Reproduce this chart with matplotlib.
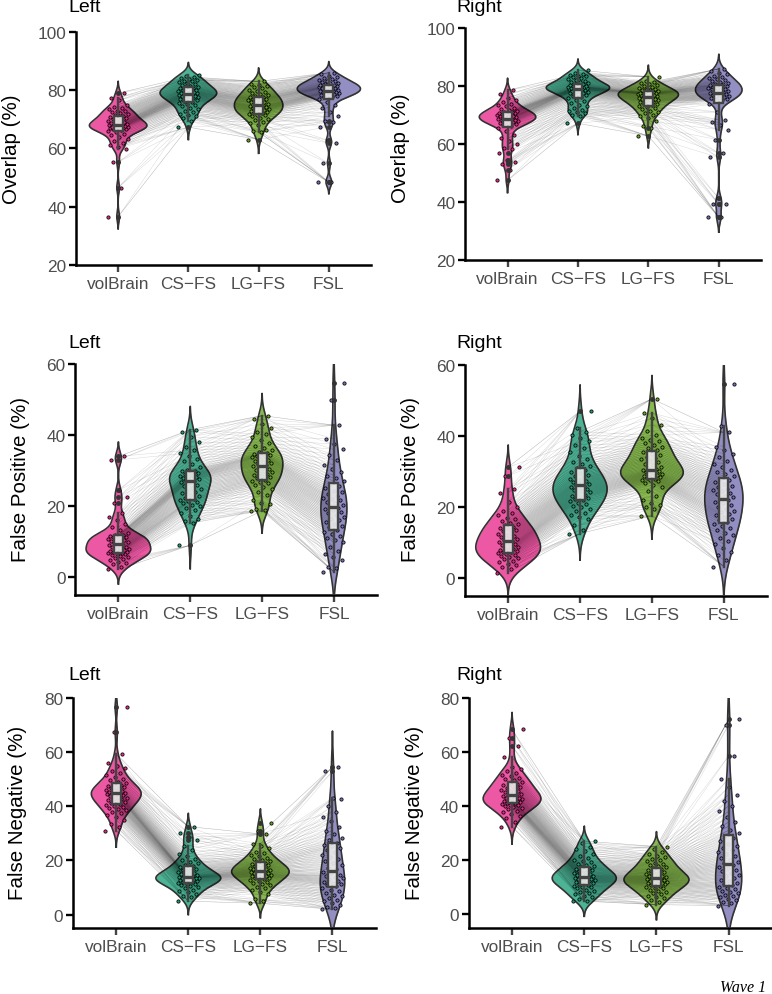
import numpy as np
import matplotlib
matplotlib.use('Agg')
import matplotlib.pyplot as plt

plt.rcParams['font.family'] = ['Liberation Sans', 'DejaVu Sans']

groups = ['volBrain', 'CS\u2212FS', 'LG\u2212FS', 'FSL']
colors = ['#E7298A', '#1B9E77', '#66A61E', '#7570B3']

# values, low to high
ov_l_vb = [36.5,46.5,55.3,59.8,60.3,61,61.8,62.5,63.2,63.9,64.5,65,65.5,66,66.3,66.5,66.6,66.8,66.9,67,67.1,67.3,67.4,67.5,67.7,67.8,67.9,68.1,68.3,68.5,68.6,68.8,69,69.3,69.5,69.8,70,70.3,70.6,70.9,71.2,71.5,71.8,72.1,72.4,72.7,73,73.4,73.8,74.2,75,76.5,77.4,79]
ov_l_cs = [67.3,69.5,70.5,71,71.4,71.8,72.5,73,73.5,74,74.4,74.8,75.2,75.6,75.9,76.2,76.5,76.8,77,77.2,77.4,77.6,77.8,78,78.1,78.3,78.5,78.6,78.8,78.9,79.1,79.2,79.4,79.5,79.7,79.8,80,80.2,80.4,80.6,80.8,81,81.2,81.5,81.8,82.1,82.4,82.7,83,83.3,83.6,84,84.3,84.6,85,85.3]
ov_l_lg = [63,65.6,65.8,66.4,68,68.6,69.2,69.8,70.2,70.6,71,71.3,71.6,71.9,72.2,72.4,72.6,72.8,73,73.2,73.4,73.6,73.8,74,74.2,74.4,74.6,74.9,75.2,75.4,75.6,75.9,76.1,76.3,76.5,76.7,76.9,77.1,77.3,77.6,77.8,78.1,78.4,78.7,79,79.4,79.8,80.2,80.6,81,81.4,81.8,82.2,83]
ov_l_fsl = [48.3,48.5,54.8,61.8,62.7,67.5,69,69.5,71,72.5,74,75,76,77,77.5,77.8,78,78.2,78.4,78.6,78.8,79,79.2,79.3,79.4,79.5,79.7,79.8,80,80.2,80.4,80.6,80.8,81,81.1,81.2,81.3,81.4,81.6,81.7,81.9,82.1,82.3,82.5,82.7,83,83.3,83.6,84,84.3,84.6,85,85.5,86]

ov_r_vb = [47.5,51.1,53,53.8,54.4,57,58.3,58.8,60,61,62,63.2,64.5,65.6,66.4,66.7,67,67.2,67.4,67.6,67.8,68,68.2,68.4,68.5,68.6,68.8,68.9,69.1,69.3,69.5,69.6,69.8,70,70.1,70.3,70.4,70.6,70.7,70.9,71,71.2,71.5,71.8,72.2,72.6,73,73.5,74,74.6,75.2,76,77.2,78.6]
ov_r_cs = [67.2,69.6,70.2,70.6,71,71.4,71.8,72.4,73,73.6,74.2,74.8,75.3,75.8,76.2,76.6,76.9,77.2,77.5,77.7,77.9,78.1,78.3,78.5,78.7,78.9,79,79.1,79.2,79.3,79.4,79.5,79.6,79.7,79.8,79.9,80,80.1,80.2,80.4,80.6,80.8,81,81.3,81.6,81.9,82.2,82.5,82.8,83.1,83.4,83.7,84,84.3,84.7,85.6]
ov_r_lg = [62.8,65.6,66.2,68,69,69.6,70.2,70.7,71.2,71.6,72,72.4,72.8,73.1,73.4,73.7,74,74.3,74.5,74.7,74.9,75.1,75.3,75.5,75.7,75.9,76.1,76.3,76.5,76.7,76.9,77,77.1,77.2,77.3,77.4,77.5,77.6,77.7,77.8,78,78.2,78.4,78.6,78.8,79,79.2,79.5,79.8,80.1,80.4,80.7,81,81.3,81.7,83.3]
ov_r_fsl = [34.7,34.8,39.2,39.4,41.3,55.4,56.9,61.5,65,66.7,67.5,68.4,71,74,75.2,75.5,75.7,75.9,76.1,76.3,76.5,76.7,76.9,77.1,77.3,77.5,77.7,77.9,78.2,78.5,78.7,78.9,79.1,79.3,79.5,79.7,79.9,80.1,80.3,80.5,80.6,80.8,81.1,81.4,81.7,82,82.4,82.8,83.2,83.6,84.1,84.6,85.2,86]

fp_l_vb = [2.2,3,3.6,4,4.4,4.8,5.1,5.4,5.7,6,6.2,6.4,6.6,6.7,6.8,7,7.1,7.3,7.5,7.6,7.8,8,8.2,8.4,8.6,8.9,9.1,9.4,9.6,9.8,10,10.2,10.4,10.6,10.8,11,11.2,11.4,11.5,11.6,11.8,11.9,12.5,13.2,14,15,16,17,18,21,22.5,24.5,33,34]
fp_l_cs = [9,15.2,15.7,16.4,17.2,18,18.8,19.4,20,20.4,20.8,21.2,21.5,21.8,22,22.4,22.8,23.2,23.6,24,24.4,24.8,25.2,25.6,26,26.4,26.8,27.2,27.4,27.6,27.8,28,28.2,28.4,28.6,28.8,29,29.2,29.5,29.8,30,30.3,31,31.8,32.6,33.4,34.2,35,35.8,36.6,38,39.5,41,41.5]
fp_l_lg = [18.7,19,19.3,20.5,21,21.6,23,24,24.8,25.4,26,26.4,26.8,27.2,27.5,27.8,28.1,28.4,28.7,29,29.3,29.6,29.9,30.2,30.5,30.8,31.2,31.6,31.9,32.2,32.5,32.8,33.1,33.4,33.7,34,34.2,34.4,34.6,34.8,35,35.3,35.8,36.4,37,37.8,38.6,39.4,40.2,41,42,43.2,44.5,45.5]
fp_l_fsl = [1.5,2.7,3,4.8,5.6,6.5,7.5,8.5,9.8,10.4,11,11.6,12.2,12.8,13.4,14,14.5,15,15.5,16,16.5,17,17.5,18,18.4,18.8,19.2,19.6,20,20.4,20.8,21.2,21.6,22,22.4,22.9,23.4,23.9,24.4,25,25.6,26.2,27,27.8,28.6,29.5,30.5,31.5,33,34.5,36,37.5,39,42.8,50,54.7]

fp_r_vb = [1.5,2.5,3,3.6,4,4.4,4.8,5.2,5.5,5.8,6.1,6.4,6.7,7,7.2,7.4,7.6,7.8,8,8.2,8.4,8.6,8.9,9.2,9.5,9.8,10.1,10.4,10.7,11,11.3,11.6,11.9,12.2,12.5,12.8,13.1,13.4,13.7,14,14.4,14.8,15.2,15.6,16,16.5,17,17.6,18.3,19,20,21.5,24,25,28.7,31.2]
fp_r_cs = [12.5,13.5,15,16.5,17.2,17.8,18.4,19,19.5,20,20.4,20.8,21.2,21.6,22,22.3,22.6,22.9,23.2,23.5,23.8,24.1,24.4,24.7,25,25.3,25.6,25.9,26.2,26.5,26.8,27.1,27.4,27.7,28,28.3,28.7,29.1,29.5,29.9,30.4,30.9,31.5,32.1,32.8,33.6,34.5,35.5,36.5,37.5,38.5,39.3,40.3,41.2,42.2,47]
fp_r_lg = [17.5,19.5,20,20.6,21,22,23,24.5,25.5,26.2,26.8,27.2,27.5,27.7,28,28.2,28.4,28.6,28.8,29,29.2,29.4,29.6,29.8,30,30.2,30.4,30.7,31,31.4,31.8,32.2,32.6,33,33.4,33.8,34.2,34.6,35,35.5,36,36.5,37,37.5,38,38.5,39,39.5,40.2,41.5,43.2,45,46.5,50.5]
fp_r_fsl = [3.2,5,6.5,7.4,8.3,9.5,10.5,11.3,12,12.7,13.4,14,14.6,15.2,15.7,16.2,16.7,17.2,17.6,18,18.5,19,19.5,20,20.5,21,21.5,22,22.4,22.8,23.2,23.6,24,24.4,24.8,25.2,25.6,26,26.5,27,27.5,28,28.6,29.2,29.8,30.5,31.2,32,33,34,35,36,37,41,42.8,54.6]

fn_l_vb = [31,32.5,33.5,35,36,36.8,37.4,38,38.5,39,39.4,39.8,40.2,40.6,41,41.3,41.6,41.9,42.2,42.5,42.8,43.1,43.4,43.7,44,44.2,44.4,44.6,44.8,45,45.2,45.4,45.6,45.8,46,46.3,46.6,46.9,47.2,47.5,47.9,48.3,48.7,49.1,49.6,50.1,50.7,51.4,52.2,53,54,55,56,59.3,67.2,76.5]
fn_l_cs = [5,6.5,7,7.6,8.2,8.8,9.3,9.8,10.2,10.6,10.9,11.2,11.5,11.8,12,12.2,12.4,12.6,12.8,13,13.2,13.4,13.5,13.6,13.7,13.8,14,14.1,14.3,14.5,14.7,15,15.3,15.6,15.9,16.2,16.5,16.8,17.2,17.6,18,18.4,18.9,19.4,20,20.6,21.5,22.5,24,25.5,27.5,28.5,30,32.5]
fn_l_lg = [4.2,5,5.7,7.5,8.5,9.2,9.8,10.3,10.8,11.2,11.6,12,12.4,12.8,13.1,13.4,13.7,14,14.2,14.4,14.6,14.8,15,15.2,15.4,15.6,15.8,16,16.2,16.4,16.6,16.8,17,17.2,17.4,17.6,17.9,18.2,18.5,18.8,19.1,19.4,19.8,20.2,20.6,21,21.5,22,22.6,23.3,24.5,25.5,26.2,29.8,31,33.8]
fn_l_fsl = [2,2.5,3,3.7,4.3,5,5.6,6.2,6.8,7.4,8,8.6,9.2,9.9,10.6,11,11.4,11.8,12.2,12.6,13,13.4,13.8,14.2,14.6,15.2,15.9,16.7,17.4,18.2,19,19.8,20.6,21.4,22.2,23,23.8,24.6,25.2,25.8,26.6,27.4,28.4,29.8,31,32.5,34.5,36,38,40,42.5,43,52.8,54.5]

fn_r_vb = [32.3,34.2,35.5,36.3,37,37.6,38.2,38.7,39.1,39.5,39.9,40.2,40.5,40.8,41,41.2,41.4,41.6,41.8,42,42.2,42.4,42.6,42.8,43,43.3,43.6,43.9,44.2,44.5,44.8,45.1,45.4,45.7,46,46.3,46.6,47,47.4,47.8,48.2,48.6,49,49.5,50,50.5,51,51.6,52.2,52.8,53.5,54.5,58,62.2,65,68.3]
fn_r_cs = [4.8,5,5.6,6.2,6.8,7.3,7.8,8.3,8.7,9.1,9.5,9.9,10.2,10.5,10.8,11.1,11.4,11.7,11.9,12.1,12.3,12.5,12.7,12.9,13.1,13.3,13.5,13.7,13.9,14.1,14.3,14.5,14.7,15,15.3,15.6,15.9,16.2,16.5,16.8,17.1,17.5,17.9,18.3,18.7,19.2,19.7,20.2,20.8,21.5,22.3,23.2,24,25,26.3,27]
fn_r_lg = [3.5,4.5,5.2,5.9,6.4,6.9,7.4,7.9,8.3,8.7,9.1,9.5,9.8,10.1,10.4,10.7,11,11.2,11.4,11.6,11.8,12,12.2,12.4,12.6,12.8,13,13.2,13.4,13.6,13.8,14,14.2,14.5,14.8,15.1,15.4,15.7,16,16.3,16.6,17,17.4,17.8,18.2,18.6,19,19.5,20,20.5,21,21.6,22.2,23,24,25]
fn_r_fsl = [3.2,4,4.6,5.2,5.7,6.2,6.7,7.2,7.7,8.2,8.7,9.2,9.7,10.2,10.7,11.2,11.7,12.2,12.8,13.4,14,14.6,15.2,15.8,16.4,17,17.6,18.2,18.8,19.4,20,20.7,21.4,22.1,22.8,23.6,24.4,25.2,26,27,28,29,30,31,32.5,34,36,38,40,42,44.2,47,50,58.5,70,72]

W, H = 772, 995
fig = plt.figure(figsize=(W / 100, H / 100), dpi=100)

# data, title, ylabel, ylim, yticks, pixel box (left, right, top, bottom), title xy, ylabel xy
panels = [
    ([ov_l_vb, ov_l_cs, ov_l_lg, ov_l_fsl], 'Left', 'Overlap (%)', (20, 100), [20, 40, 60, 80, 100], (76, 371, 33, 265.7), (68, 8), (12, 149)),
    ([ov_r_vb, ov_r_cs, ov_r_lg, ov_r_fsl], 'Right', 'Overlap (%)', (20, 100), [20, 40, 60, 80, 100], (465.3, 761, 29.3, 261), (456, 8), (401, 148)),
    ([fp_l_vb, fp_l_cs, fp_l_lg, fp_l_fsl], 'Left', 'False Positive (%)', (-5, 60), [0, 20, 40, 60], (75.3, 377, 365, 596), (68, 344), (21, 480)),
    ([fp_r_vb, fp_r_cs, fp_r_lg, fp_r_fsl], 'Right', 'False Positive (%)', (-5, 60), [0, 20, 40, 60], (465, 767, 366, 596.7), (456, 344), (411, 480)),
    ([fn_l_vb, fn_l_cs, fn_l_lg, fn_l_fsl], 'Left', 'False Negative (%)', (-5, 80), [0, 20, 40, 60, 80], (73, 375.7, 698.7, 929.3), (68, 676), (18, 813)),
    ([fn_r_vb, fn_r_cs, fn_r_lg, fn_r_fsl], 'Right', 'False Negative (%)', (-5, 80), [0, 20, 40, 60, 80], (468.7, 772, 698.7, 928.7), (456, 676), (414, 813)),
]


def kde(vals):
    # gaussian density, wider bandwidth than the usual rule so the hand read list stays smooth
    vals = np.array(vals)
    q1, q3 = np.percentile(vals, [25, 75])
    bw = 1.15 * min(vals.std(), (q3 - q1) / 1.34) * 130 ** -0.2
    yy = np.linspace(vals.min() - 2.5 * bw, vals.max() + 2.5 * bw, 300)
    dens = np.exp(-0.5 * ((yy[:, None] - vals) / bw) ** 2).sum(axis=1)
    return yy, dens / (len(vals) * bw * np.sqrt(2 * np.pi))


for data, title, ylabel, ylim, yticks, box, title_xy, ylabel_xy in panels:
    l, r, t, b = box
    ax = fig.add_axes([l / W, 1 - b / H, (r - l) / W, (b - t) / H])

    # violins, area scaled so the widest of the panel is 0.9 wide
    curves = [kde(v) for v in data]
    top = max(d.max() for yy, d in curves)
    for i, (yy, d) in enumerate(curves):
        half = d / top * 0.45
        ax.fill_betweenx(yy, i - half, i + half, color=colors[i], alpha=0.78, lw=0, zorder=2)
        ax.plot(np.r_[i - half, (i + half)[::-1]], np.r_[yy, yy[::-1]], color='#333333', lw=1.2, zorder=3)

    # subject lines between neighbouring tools
    for i in range(3):
        n = min(len(data[i]), len(data[i + 1]))
        for off in [0, 5, -5]:
            for k in range(n):
                k2 = min(max(k + off, 0), n - 1)
                ax.plot([i, i + 1], [data[i][k], data[i + 1][k2]], color='black', lw=0.35, alpha=0.15, zorder=4)

    # jittered points
    for i, v in enumerate(data):
        jit = [((k * 0.618034) % 1 - 0.5) * 0.3 for k in range(len(v))]
        ax.scatter(i + np.array(jit), v, s=5.5, c=colors[i], edgecolors='black', linewidths=0.55, zorder=5)

    bp = ax.boxplot(data, positions=range(4), widths=0.125, patch_artist=True, showcaps=False, zorder=6,
                    boxprops=dict(facecolor=(0.93, 0.93, 0.93, 0.9), edgecolor='#444444', linewidth=1.7),
                    medianprops=dict(color='#444444', linewidth=2.4),
                    whiskerprops=dict(color='#444444', linewidth=1.7),
                    flierprops=dict(marker='o', markersize=2.5, markerfacecolor='#333333', markeredgecolor='#333333'))

    ax.set_xlim(-0.6, 3.6)
    ax.set_ylim(*ylim)
    ax.set_xticks(range(4))
    ax.set_xticklabels(groups)
    ax.set_yticks(yticks)
    ax.tick_params(axis='y', labelsize=12.4, labelcolor='#4D4D4D', length=5, width=1.7, color='black', pad=2)
    ax.tick_params(axis='x', labelsize=12.4, labelcolor='#4D4D4D', length=5, width=1.7, color='#444444', pad=3)
    ax.spines['top'].set_visible(False)
    ax.spines['right'].set_visible(False)
    ax.spines['left'].set_linewidth(1.8)
    ax.spines['bottom'].set_linewidth(1.8)
    ax.patch.set_alpha(0)

    fig.text(title_xy[0] / W, 1 - title_xy[1] / H, title, fontsize=14, color='black', ha='left', va='center')
    fig.text(ylabel_xy[0] / W, 1 - ylabel_xy[1] / H, ylabel, fontsize=14.8, color='black', rotation=90, ha='center', va='center')

fig.text(766 / W, 1 - 988 / H, 'Wave 1', family='Liberation Serif', style='italic', fontsize=11.5, ha='right', va='center')

fig.savefig('out.png', dpi=100)
